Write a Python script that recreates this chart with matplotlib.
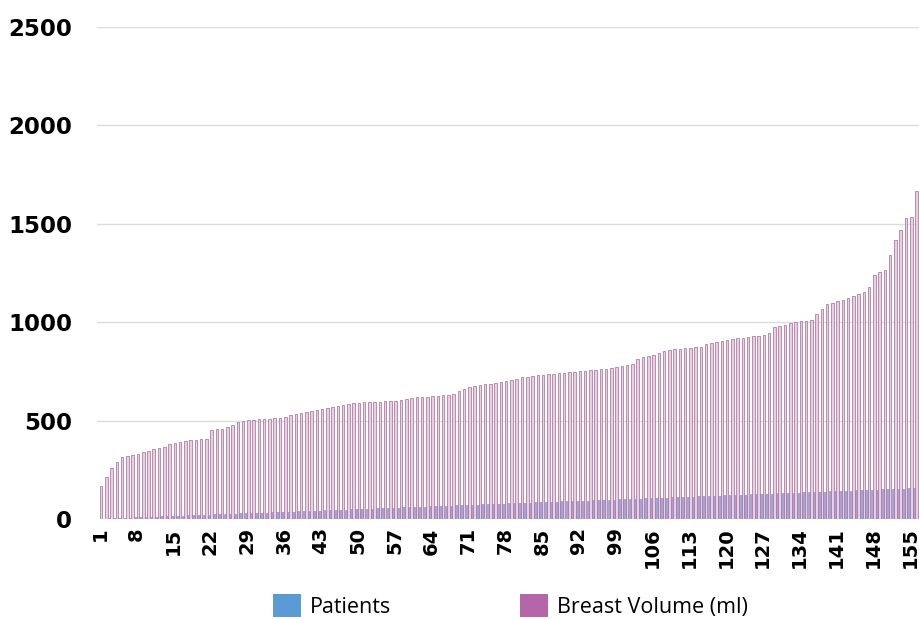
import numpy as np
import matplotlib.pyplot as plt
from matplotlib.patches import Patch

# patient numbers 1..156 (the blue series is simply the patient index)
patients = list(range(1, 157))

# breast volume (ml), sorted ascending
volume = [
    168, 215, 258, 290, 315, 322, 325, 328, 338, 345,
    355, 362, 368, 382, 388, 392, 398, 400, 403, 405,
    408, 450, 455, 458, 470, 480, 495, 500, 502, 505,
    506, 508, 510, 512, 514, 520, 530, 535, 540, 545,
    550, 555, 560, 562, 568, 572, 580, 585, 588, 590,
    592, 594, 595, 596, 598, 600, 602, 605, 610, 615,
    618, 620, 622, 624, 626, 628, 630, 635, 648, 662,
    670, 675, 680, 684, 688, 692, 696, 700, 705, 712,
    720, 724, 727, 730, 732, 735, 738, 740, 742, 745,
    748, 750, 752, 755, 757, 760, 762, 765, 770, 775,
    780, 790, 815, 822, 828, 835, 845, 855, 860, 862,
    865, 868, 870, 873, 876, 890, 895, 900, 905, 910,
    915, 918, 920, 925, 928, 930, 935, 945, 978, 982,
    985, 998, 1002, 1005, 1008, 1010, 1040, 1065, 1090, 1100,
    1108, 1115, 1125, 1135, 1145, 1155, 1180, 1240, 1255, 1265,
    1340, 1420, 1470, 1530, 1535, 1665,
]

tick_labels = [str(p) for p in patients[::7]]

fig = plt.figure(figsize=(9.2, 6.19), dpi=100)
ax = fig.add_axes([97 / 920, 100 / 619, 1 - 97 / 920, (519 - 27) / 619])

x = np.array(patients)
w = 0.48
ax.bar(x - w / 2, patients, width=w, color="#a2a5d8", edgecolor="#8487c2",
       linewidth=0.4, zorder=2)
ax.bar(x + w / 2, volume, width=w, color="#efcbe5", edgecolor="#9a7094",
       linewidth=0.5, zorder=2)

ax.set_ylim(0, 2500)
ax.set_xlim(0.45, 156.9)
ax.set_yticks(range(0, 2501, 500))
ax.yaxis.grid(True, color="#dcdcdc", linewidth=1.0, zorder=0)
ax.set_axisbelow(True)
for s in ax.spines.values():
    s.set_visible(False)

ax.set_xticks(patients[::7])
ax.set_xticklabels(tick_labels, rotation=90, fontsize=14, fontweight="bold")
ax.tick_params(axis="both", length=0)
ax.tick_params(axis="y", labelsize=16.5, pad=18)
for t in ax.get_yticklabels():
    t.set_fontweight("bold")
ax.tick_params(axis="x", pad=6)

handles = [Patch(facecolor="#5b9bd5", label="Patients"),
           Patch(facecolor="#b566a8", label="Breast Volume (ml)")]
fig.legend(handles=handles, loc="center", bbox_to_anchor=(0.555, 0.021),
           ncol=2, frameon=False, prop={"family": "Open Sans", "size": 15.5},
           handlelength=1.3, handleheight=1.3, handletextpad=0.4,
           columnspacing=6.0)

fig.savefig("out.png", dpi=100)
